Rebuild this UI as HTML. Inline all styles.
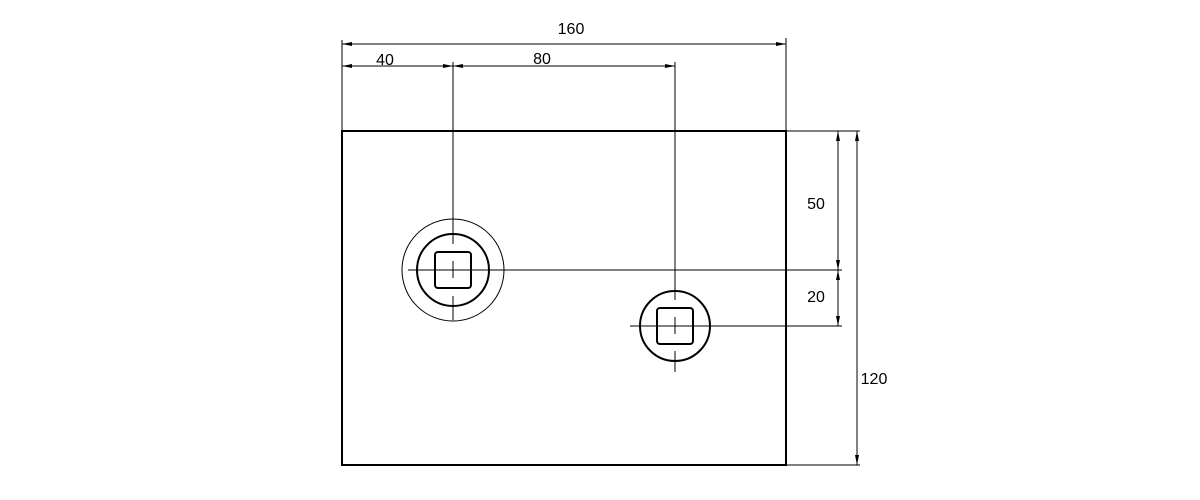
<!DOCTYPE html>
<html><head><style>body{margin:0;background:#fff}svg{display:block}</style></head><body>
<svg width="1200" height="500" xmlns="http://www.w3.org/2000/svg" font-family="Liberation Sans, sans-serif" font-size="16" fill="none">
<defs>
<marker id="a" viewBox="0 0 10 6" refX="10" refY="3" markerWidth="10" markerHeight="6" orient="auto-start-reverse" markerUnits="userSpaceOnUse"><path d="M0,1 L10,3 L0,5z" fill="#000"/></marker>
</defs>
<g stroke="#000">
<rect x="342" y="131" width="444" height="334" stroke-width="2"/>
<g stroke-width="1">
<line x1="342" y1="40" x2="342" y2="131"/>
<line x1="786" y1="38" x2="786" y2="131"/>
<line x1="453" y1="62" x2="453" y2="244"/>
<line x1="453" y1="261" x2="453" y2="278"/>
<line x1="453" y1="296" x2="453" y2="320"/>
<line x1="675" y1="62" x2="675" y2="300"/>
<line x1="675" y1="317" x2="675" y2="334"/>
<line x1="675" y1="351" x2="675" y2="372"/>
<line x1="408" y1="270" x2="842" y2="270"/>
<line x1="630" y1="326" x2="842" y2="326"/>
<line x1="786" y1="131" x2="860" y2="131"/>
<line x1="786" y1="465" x2="860" y2="465"/>
<line x1="342" y1="44" x2="786" y2="44" marker-start="url(#a)" marker-end="url(#a)"/>
<line x1="342" y1="66" x2="453" y2="66" marker-start="url(#a)" marker-end="url(#a)"/>
<line x1="453" y1="66" x2="675" y2="66" marker-start="url(#a)" marker-end="url(#a)"/>
<line x1="838" y1="131" x2="838" y2="270" marker-start="url(#a)" marker-end="url(#a)"/>
<line x1="838" y1="270" x2="838" y2="326" marker-start="url(#a)" marker-end="url(#a)"/>
<line x1="857" y1="131" x2="857" y2="465" marker-start="url(#a)" marker-end="url(#a)"/>
<circle cx="453" cy="270" r="51"/>
</g>
<circle cx="453" cy="270" r="36" stroke-width="2"/>
<rect x="435" y="252" width="36" height="36" rx="3" stroke-width="2"/>
<circle cx="675" cy="326" r="35" stroke-width="2"/>
<rect x="657" y="308" width="36" height="36" rx="3" stroke-width="2"/>
</g>
<g fill="#000" stroke="none" text-anchor="middle">
<text x="571" y="34">160</text>
<text x="385" y="65">40</text>
<text x="542" y="64">80</text>
<text x="816" y="209">50</text>
<text x="816" y="302">20</text>
<text x="874" y="384">120</text>
</g>
</svg>
</body></html>
